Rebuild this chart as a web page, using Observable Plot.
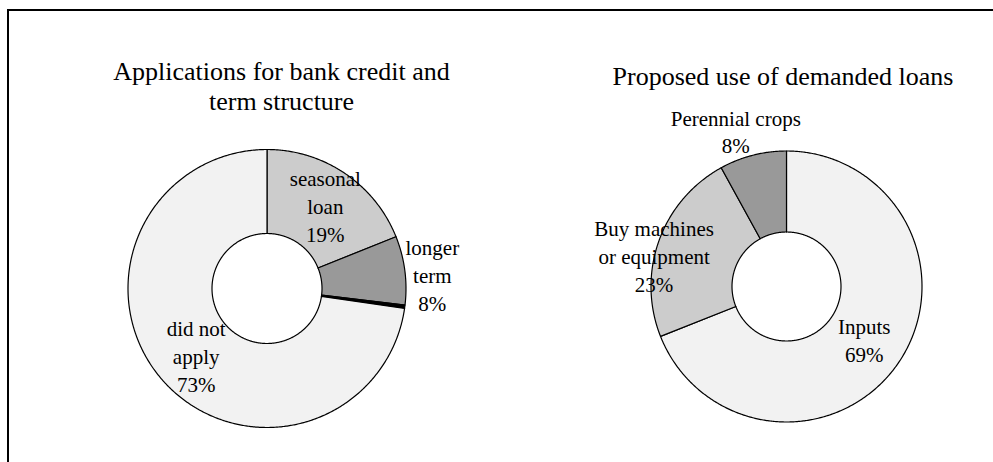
<!DOCTYPE html>
<html>
<head>
<meta charset="utf-8">
<script src="https://cdn.jsdelivr.net/npm/d3@7"></script>
<script src="https://cdn.jsdelivr.net/npm/@observablehq/plot@0.6"></script>
<style>
  html, body { margin: 0; padding: 0; background: #fff; }
  #wrap { position: relative; width: 993px; height: 462px; overflow: hidden; }
  #frame { position: absolute; left: 7px; top: 9px; right: -4px; bottom: -4px;
           border-top: 2px solid #000; border-left: 2px solid #000; pointer-events: none; }
</style>
</head>
<body>
<div id="wrap"><div id="frame"></div></div>
<script>
// ---- data ----
const creditTitle = "Applications for bank credit and\nterm structure";
const creditLabels = ["seasonal\nloan", "longer\nterm", null, "did not\napply"];
const creditValues = [19, 8, 0.4, 73];
const creditPct = ["19%", "8%", null, "73%"];

const useTitle = "Proposed use of demanded loans";
const useLabels = ["Inputs", "Buy machines\nor equipment", "Perennial crops"];
const useValues = [69, 23, 8];
const usePct = ["69%", "23%", "8%"];

// ---- layout / styles ----
const W = 993, H = 462;
const SERIF = "Liberation Serif, Times New Roman, serif";
const donuts = [
  {title: creditTitle, labels: creditLabels, values: creditValues, pct: creditPct,
   cx: 266.5, cy: 288, r0: 55, r1: 139,
   fills: ["#cccccc", "#999999", "#000000", "#f2f2f2"],
   labelR: [102, 166, 0, 97], labelDA: [0.8, 2.4, 0, -2.2],
   titleX: 281, titleY: 85},
  {title: useTitle, labels: useLabels, values: useValues, pct: usePct,
   cx: 786, cy: 286, r0: 54.5, r1: 135.5,
   fills: ["#f2f2f2", "#cccccc", "#999999"],
   labelR: [94, 136, 164], labelDA: [0, -6.6, -3.6],
   titleX: 782.5, titleY: 75}
];

const rad = d => d * Math.PI / 180;
const slices = [], texts = [], titles = [];
donuts.forEach((D, di) => {
  const total = d3.sum(D.values);
  let acc = 0;
  D.values.forEach((v, i) => {
    const a0 = acc / total * 360, a1 = (acc + v) / total * 360;
    acc += v;
    const pts = [];
    const n = Math.max(2, Math.ceil((a1 - a0) / 0.5));
    for (let k = 0; k <= n; k++) {
      const a = rad(a0 + (a1 - a0) * k / n);
      pts.push({x: D.cx + D.r1 * Math.sin(a), y: D.cy - D.r1 * Math.cos(a)});
    }
    for (let k = n; k >= 0; k--) {
      const a = rad(a0 + (a1 - a0) * k / n);
      pts.push({x: D.cx + D.r0 * Math.sin(a), y: D.cy - D.r0 * Math.cos(a)});
    }
    slices.push({pts, fill: D.fills[i]});
    if (D.labels[i]) {
      const am = rad((a0 + a1) / 2 + D.labelDA[i]);
      texts.push({x: D.cx + D.labelR[i] * Math.sin(am), y: D.cy - D.labelR[i] * Math.cos(am),
                  text: D.labels[i] + "\n" + D.pct[i]});
    }
  });
  titles.push({x: D.titleX, y: D.titleY, text: D.title});
});

const chart = Plot.plot({
  width: W, height: H, margin: 0,
  style: {"background": "transparent", "font-family": SERIF, "overflow": "visible"},
  x: {domain: [0, W], range: [0, W], axis: null},
  y: {domain: [0, H], range: [0, H], axis: null},
  marks: [
    ...slices.map(s => Plot.line(s.pts, {x: "x", y: "y", curve: "linear-closed",
        fill: s.fill, stroke: "#000", strokeWidth: 1.2})),
    Plot.text(texts, {x: "x", y: "y", text: "text", fontSize: 21, lineHeight: 1.33,
        fontFamily: SERIF, fill: "#000", textAnchor: "middle"}),
    Plot.text(titles, {x: "x", y: "y", text: "text", fontSize: 26, lineHeight: 1.15,
        fontFamily: SERIF, fill: "#000", textAnchor: "middle"})
  ]
});
chart.style.position = "absolute";
chart.style.left = "0px";
chart.style.top = "0px";
document.getElementById("wrap").appendChild(chart);
</script>
</body>
</html>
